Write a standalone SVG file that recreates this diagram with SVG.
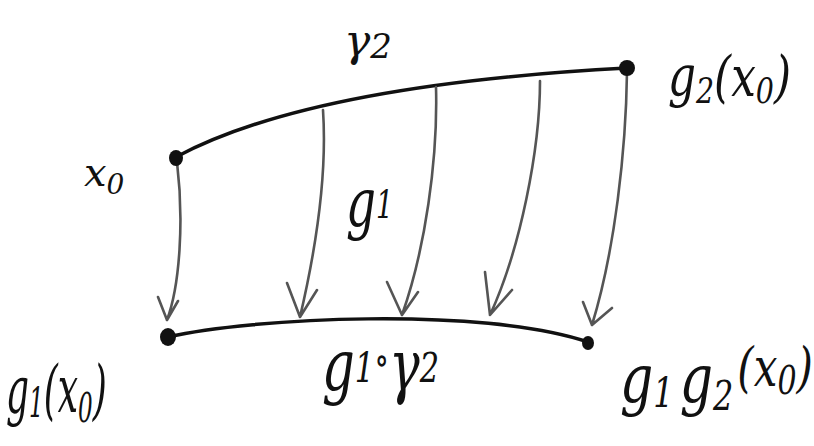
<svg xmlns="http://www.w3.org/2000/svg" width="814" height="446" viewBox="0 0 814 446">
<style>
.curve{fill:none;stroke:#111;stroke-width:3.5;stroke-linecap:round}
.arr{fill:none;stroke:#555;stroke-width:2.6;stroke-linecap:round;stroke-linejoin:round}
.dot{fill:#111}
.lbl{font-family:"DejaVu Serif","Liberation Serif",serif;font-style:italic;fill:#111}
</style>
<rect width="814" height="446" fill="#fff"/>
<g id="connectors">
  <path id="gamma2" class="curve" d="M176,157 C260,112 400,80 627,68"/>
  <path id="g1gamma2" class="curve" d="M168,337 C250,318 480,306 588,342"/>
  <path class="arr" d="M177,162 C184,220 180,285 167,320 M158,297 L167,320 L178,301"/>
  <path class="arr" d="M323,110 C327,170 318,240 300,317 M287,283 L300,317 L317,290"/>
  <path class="arr" d="M436,87 C438,160 425,250 402,315 M387,282 L402,315 L418,292"/>
  <path class="arr" d="M540,81 C540,150 520,250 490,315 M485,272 L490,315 L512,290"/>
  <path class="arr" d="M627,72 C626,150 615,250 592,325 M583,302 L592,325 L612,308"/>
</g>
<g id="x0"><ellipse class="dot" cx="176" cy="158" rx="7" ry="8"/><text class="lbl" x="84" y="186" font-size="40">x<tspan font-size="28" dy="8">0</tspan></text></g>
<g id="g2x0"><ellipse class="dot" cx="627" cy="68" rx="8" ry="8"/><text class="lbl" transform="translate(668,96) scale(0.95,1.2)" font-size="46">g<tspan font-size="30" dy="6">2</tspan><tspan dy="-6">(x</tspan><tspan font-size="30" dy="6">0</tspan><tspan dy="-6">)</tspan></text></g>
<g id="g1x0"><ellipse class="dot" cx="168" cy="337" rx="8" ry="9"/><text class="lbl" transform="translate(6,412) scale(0.72,1.3)" font-size="50">g<tspan font-size="32" dy="4">1</tspan><tspan dy="-4">(x</tspan><tspan font-size="32" dy="8">0</tspan><tspan dy="-8">)</tspan></text></g>
<g id="g1g2x0"><ellipse class="dot" cx="588" cy="343" rx="6" ry="7"/><text class="lbl" transform="translate(620,402) scale(1,1.3)" font-size="52">g<tspan font-size="32" dy="4">1</tspan><tspan dx="6" dy="-4">g</tspan><tspan font-size="32" dy="6">2</tspan><tspan font-size="42" dx="4" dy="-18">(x</tspan><tspan font-size="30" dy="6">0</tspan><tspan font-size="42" dy="-6">)</tspan></text></g>
<g id="g1"><text class="lbl" transform="translate(346,226) scale(0.9,1.3)" font-size="52">g<tspan font-size="30" dy="-6">1</tspan></text></g>
<g id="gamma2label"><text class="lbl" x="344" y="56" font-size="44">γ<tspan font-size="34" dy="2">2</tspan></text></g>
<g id="g1ogamma2"><text class="lbl" transform="translate(322,390) scale(0.95,1.3)" font-size="54">g<tspan font-size="32" dy="-6">1</tspan><tspan font-size="32" dy="-6">∘</tspan><tspan dy="12">γ</tspan><tspan font-size="32" dy="-6">2</tspan></text></g>
</svg>
